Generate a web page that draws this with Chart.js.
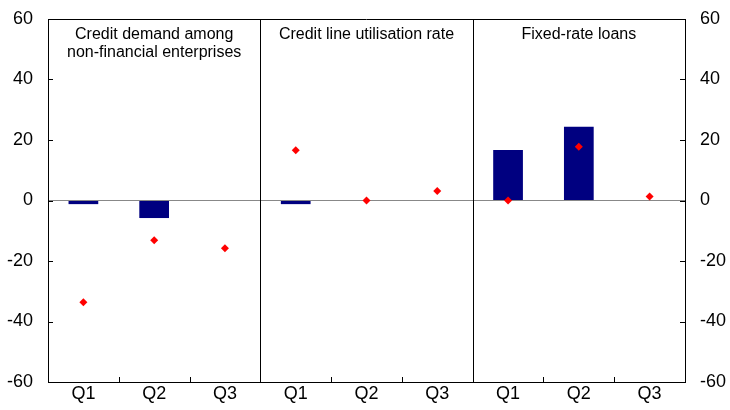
<!DOCTYPE html>
<html>
<head>
<meta charset="utf-8">
<script src="https://cdn.jsdelivr.net/npm/chart.js@4/dist/chart.umd.min.js"></script>
<style>
  html, body { margin: 0; padding: 0; background: #fff; }
  #wrap { width: 730px; height: 410px; }
</style>
</head>
<body>
<div id="wrap"><canvas id="c"></canvas></div>
<script>
// data
var quarters = ['Q1', 'Q2', 'Q3', 'Q1', 'Q2', 'Q3', 'Q1', 'Q2', 'Q3'];
var panelTitles = [
  ['Credit demand among', 'non-financial enterprises'],
  ['Credit line utilisation rate'],
  ['Fixed-rate loans']
];
var barValues = [-1.2, -5.8, 0, -1.2, 0, 0, 16.7, 24.4, 0];
var dotValues = [-33.6, -13.1, -15.8, 16.6, 0, 3.1, 0, 17.8, 1.3];
var yTicks = [-60, -40, -20, 0, 20, 40, 60];

var FONT = 'Liberation Sans, Arial, sans-serif';

// frame, inner tick marks, panel separators and panel titles
var decor = {
  id: 'decor',
  afterDatasetsDraw: function(chart) {
    var ctx = chart.ctx, a = chart.chartArea;
    var x = chart.scales.x, y = chart.scales.y;
    ctx.save();
    ctx.strokeStyle = '#000';
    ctx.lineWidth = 1;
    ctx.beginPath();
    // top of frame
    ctx.moveTo(a.left, a.top + 0.5); ctx.lineTo(a.right, a.top + 0.5);
    // y ticks pointing inward
    yTicks.forEach(function(v) {
      var py = Math.round(y.getPixelForValue(v)) + 0.5;
      ctx.moveTo(a.left, py); ctx.lineTo(a.left + 5, py);
      ctx.moveTo(a.right, py); ctx.lineTo(a.right - 5, py);
    });
    // x ticks at category boundaries, pointing up
    for (var i = 1; i < quarters.length; i++) {
      var px = Math.round((x.getPixelForValue(i - 1) + x.getPixelForValue(i)) / 2) + 0.5;
      ctx.moveTo(px, a.bottom); ctx.lineTo(px, a.bottom - 5);
      if (i % 3 === 0) { ctx.moveTo(px, a.top); ctx.lineTo(px, a.bottom); }
    }
    ctx.stroke();

    ctx.fillStyle = '#000';
    ctx.font = '16px ' + FONT;
    ctx.textAlign = 'center';
    ctx.textBaseline = 'middle';
    panelTitles.forEach(function(lines, p) {
      var cx = x.getPixelForValue(p * 3 + 1);
      lines.forEach(function(t, k) {
        ctx.fillText(t, cx, a.top + 16 + k * 18);
      });
    });
    ctx.restore();
  }
};

function fitY(width) {
  return function(s) {
    s.width = width;
    s.paddingTop = 0;
    s.paddingBottom = 0;
  };
}

new Chart(document.getElementById('c'), {
  type: 'bar',
  data: {
    labels: quarters,
    datasets: [
      {
        type: 'line',
        data: dotValues,
        showLine: false,
        pointStyle: 'rectRot',
        pointRadius: 4,
        pointHoverRadius: 4,
        pointBackgroundColor: '#ff0000',
        pointBorderColor: '#ff0000',
        pointBorderWidth: 0,
        yAxisID: 'y',
        order: 0
      },
      {
        type: 'bar',
        data: barValues,
        backgroundColor: '#000080',
        categoryPercentage: 1,
        barPercentage: 0.42,
        yAxisID: 'y',
        order: 1
      }
    ]
  },
  options: {
    responsive: true,
    maintainAspectRatio: false,
    animation: false,
    layout: { padding: { top: 19, left: 0, right: 0, bottom: 0 } },
    plugins: { legend: { display: false }, tooltip: { enabled: false } },
    scales: {
      x: {
        offset: true,
        grid: { display: false, drawTicks: false },
        border: { color: '#000', width: 1 },
        ticks: { color: '#000', font: { family: FONT, size: 18 }, padding: 1, maxRotation: 0 },
        afterFit: function(s) { s.height = 28; s.paddingLeft = 0; s.paddingRight = 0; }
      },
      y: {
        position: 'left',
        min: -60, max: 60,
        afterBuildTicks: function(s) { s.ticks = yTicks.map(function(v) { return { value: v }; }); },
        grid: {
          drawTicks: false,
          color: function(c) { return c.tick && c.tick.value === 0 ? '#888' : 'transparent'; }
        },
        border: { color: '#000', width: 1 },
        ticks: { color: '#000', font: { family: FONT, size: 18 }, padding: 15 },
        afterFit: fitY(48)
      },
      y2: {
        position: 'right',
        min: -60, max: 60,
        afterBuildTicks: function(s) { s.ticks = yTicks.map(function(v) { return { value: v }; }); },
        grid: { display: false, drawTicks: false },
        border: { color: '#000', width: 1 },
        ticks: { color: '#000', font: { family: FONT, size: 18 }, padding: 15 },
        afterFit: fitY(45)
      }
    }
  },
  plugins: [decor]
});
</script>
</body>
</html>
